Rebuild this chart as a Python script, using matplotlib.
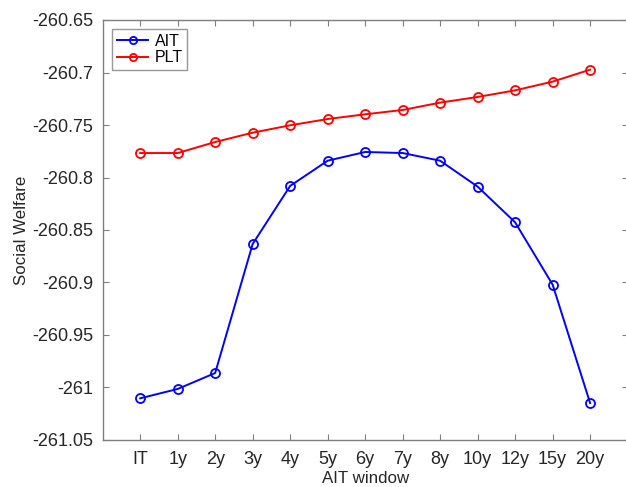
import matplotlib
matplotlib.use("Agg")
import matplotlib.pyplot as plt
import numpy as np

plt.rcParams['font.family'] = ['Liberation Sans', 'DejaVu Sans']

windows = ["IT", "1y", "2y", "3y", "4y", "5y", "6y", "7y", "8y", "10y", "12y", "15y", "20y"]
ait = [-261.0103, -261.0014, -260.9862, -260.8633, -260.8080, -260.7840, -260.7757,
       -260.7767, -260.7840, -260.8087, -260.8427, -260.9020, -261.0148]
plt_vals = [-260.7767, -260.7767, -260.7662, -260.7573, -260.7503, -260.7443, -260.7398,
            -260.7357, -260.7287, -260.7233, -260.7170, -260.7087, -260.6973]
yticks = [-261.05, -261.0, -260.95, -260.9, -260.85, -260.8, -260.75, -260.7, -260.65]
ytick_labels = ["-261.05", "-261", "-260.95", "-260.9", "-260.85", "-260.8", "-260.75", "-260.7", "-260.65"]

fig = plt.figure(figsize=(6.26, 4.87), dpi=100)
ax = fig.add_axes([102.7 / 626, 1 - 440 / 487, (627.6 - 102.7) / 626, 420 / 487])

x = np.arange(1, len(windows) + 1)
ax.plot(x, ait, '-o', color='#0000ff', lw=1.4, ms=6.5, mfc='none', mew=1.3, label='AIT')
ax.plot(x, plt_vals, '-o', color='#ff0000', lw=1.4, ms=6.5, mfc='none', mew=1.3, label='PLT')

ax.set_xlim(0, len(windows) + 1)
ax.set_ylim(-261.05, -260.65)
ax.set_xticks(x)
ax.set_xticklabels(windows)
ax.set_yticks(yticks)
ax.set_yticklabels(ytick_labels)

axis_grey = '#7f7f7f'
text_grey = '#262626'
for s in ax.spines.values():
    s.set_color(axis_grey)
    s.set_linewidth(1.0)
ax.tick_params(direction='in', top=True, right=True, length=4, width=0.8,
               color=axis_grey, labelcolor=text_grey, labelsize=13, pad=7)
ax.tick_params(axis='x', pad=8)

ax.set_xlabel('AIT window', fontsize=12.2, color=text_grey, labelpad=2)
ax.set_ylabel('Social Welfare', fontsize=12.2, color=text_grey, labelpad=2)

leg = ax.legend(loc='upper left', bbox_to_anchor=(0.018, 0.979), fontsize=11.5,
                frameon=True, fancybox=False, handlelength=1.95, handletextpad=0.4,
                borderpad=0.3, labelspacing=0.1, borderaxespad=0, markerscale=0.8)
leg.get_frame().set_edgecolor(axis_grey)
leg.get_frame().set_linewidth(1.0)

fig.savefig('out.png', dpi=100)
